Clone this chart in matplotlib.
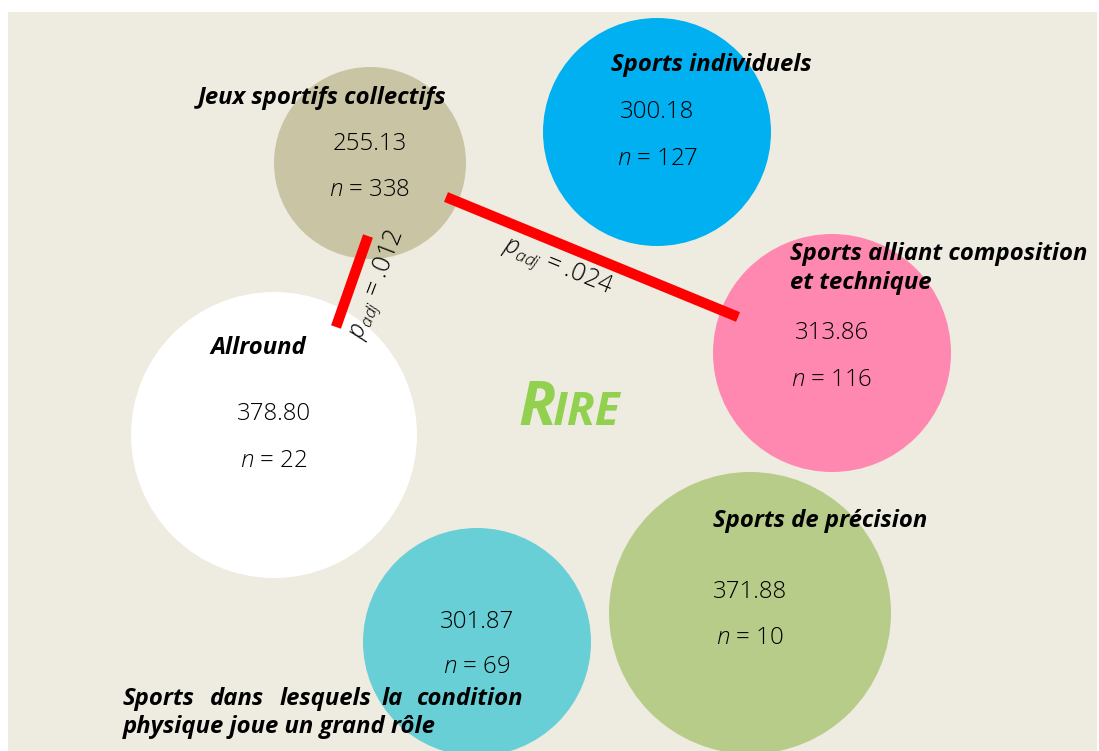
import matplotlib
matplotlib.use("Agg")
import matplotlib.pyplot as plt
from matplotlib.patches import Circle, Rectangle

plt.rcParams['mathtext.fontset'] = 'custom'
plt.rcParams['mathtext.it'] = 'Open Sans:italic:light'
plt.rcParams['mathtext.rm'] = 'Open Sans:light'

# Data
groups = ["Jeux sportifs collectifs", "Sports individuels",
          "Sports alliant composition\net technique", "Allround",
          "Sports de précision",
          "Sports dans lesquels la condition\nphysique joue un grand rôle"]
mean_ranks = [255.13, 300.18, 313.86, 378.80, 371.88, 301.87]
ns = [338, 127, 116, 22, 10, 69]
colors = ["#C9C4A3", "#00B0F0", "#FF88B0", "#FFFFFF", "#B8CC8A", "#69CFD6"]
# layout (pixel coords)
centers = [(370, 163), (657, 132), (832, 353), (274, 435), (750, 613), (477, 642)]
radii = [96, 114, 119, 143, 141, 114]
label_pos = [(198, 98, 'left'), (611, 65, 'left'), (790, 254, 'left'),
             (210, 348, 'left'), (713, 521, 'left'), None]
value_off = [(-21, 25), (-22, 25), (-22, 25), (-23, 24), (-23, 23), (-22, 23)]

comparisons = [(0, 2, ".024"), (0, 3, ".012")]
line_pts = [((446, 197), (738, 317)), ((368, 236), (336, 327))]
pl_pos = [(557, 267, -22.3), (378, 285, 69)]

fig = plt.figure(figsize=(10.99, 7.51), dpi=100)
ax = fig.add_axes([0, 0, 1, 1])
ax.set_xlim(0, 1099)
ax.set_ylim(751, 0)
ax.axis('off')
ax.add_patch(Rectangle((8, 12), 1089, 745, facecolor="#EEEBE0", edgecolor='none'))

for (cx, cy), r, c in zip(centers, radii, colors):
    ax.add_patch(Circle((cx, cy), r, facecolor=c, edgecolor='none', zorder=1))

lab_font = dict(family='Open Sans', weight='bold', style='italic', fontsize=17.2, color='black', zorder=5)
val_font = dict(family='Open Sans', weight='light', fontsize=17.3, color='black', ha='center', va='center', zorder=5)

for i, (g, lp) in enumerate(zip(groups, label_pos)):
    if lp is not None:
        x, y, ha = lp
        lines = g.split("\n")
        for k, ln in enumerate(lines):
            ax.text(x, y + k * 29, ln, ha=ha, va='center', **lab_font)
    cx, cy = centers[i]
    o1, o2 = value_off[i]
    ax.text(cx, cy + o1 + 2, f"{mean_ranks[i]:.2f}", **val_font)
    ax.text(cx, cy + o2 + 2, f"$n$ = {ns[i]}", **val_font)

# justified last label
words1 = ["Sports", "dans", "lesquels", "la", "condition"]
wx = [123, 210, 280, 382, 523]
for k, (w, x) in enumerate(zip(words1, wx)):
    ax.text(x, 699, w, ha='right' if k == len(words1) - 1 else 'left', va='center', **lab_font)
ax.text(123, 727, "physique joue un grand rôle", ha='left', va='center', **lab_font)

for (p1, p2), (tx, ty, rot), (_, _, pv) in zip(line_pts, pl_pos, comparisons):
    ax.plot([p1[0], p2[0]], [p1[1], p2[1]], color='#FF0000', lw=7.5, solid_capstyle='butt', zorder=3)
    ax.text(tx, ty, r"$p_{adj}$ = " + pv, rotation=rot, rotation_mode='anchor',
            ha='center', va='center', fontsize=18, family='Open Sans', weight='light', zorder=5)

# RIRE small caps
ax.text(518, 425, "R", ha='left', va='baseline', fontsize=44, family='Open Sans',
        weight='bold', style='italic', color='#92D050', zorder=5)
ax.text(553, 425, "IRE", ha='left', va='baseline', fontsize=33, family='Open Sans',
        weight='bold', style='italic', color='#92D050', zorder=5)

fig.savefig("out.png", dpi=100)
